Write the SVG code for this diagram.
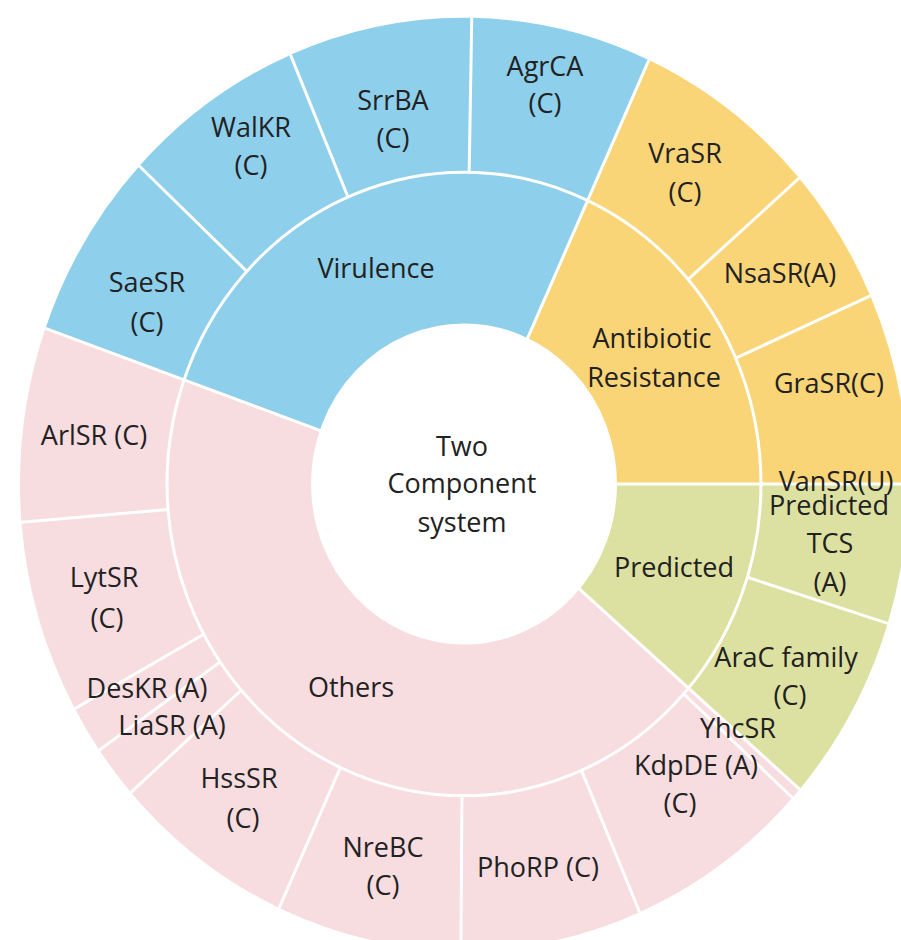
<svg xmlns="http://www.w3.org/2000/svg" width="901" height="940" viewBox="0 0 901 940">
<style>
.mid{fill:none;stroke-width:145.5}
.out{fill:none;stroke-width:147}
.v{stroke:#8ECFEC}
.a{stroke:#F9D578}
.p{stroke:#DCE0A0}
.o{stroke:#F7DCE0}
.sep{stroke:#FFFFFF;stroke-width:3;fill:none;vector-effect:non-scaling-stroke}
text{font-family:"Open Sans","DejaVu Sans",sans-serif;font-size:27px;fill:#222222;text-anchor:middle}
</style>
<rect width="901" height="940" fill="#FFFFFF"/>
<g transform="translate(464,484) scale(1,1.05)">
  <g id="virulence"><circle class="mid v" r="224.25" pathLength="360" stroke-dasharray="95.1 360" transform="rotate(199.5)"/></g>
  <g id="antibiotic"><circle class="mid a" r="224.25" pathLength="360" stroke-dasharray="65.4 360" transform="rotate(-65.4)"/></g>
  <g id="predicted"><circle class="mid p" r="224.25" pathLength="360" stroke-dasharray="40.9 360" transform="rotate(0)"/></g>
  <g id="others"><circle class="mid o" r="224.25" pathLength="360" stroke-dasharray="158.6 360" transform="rotate(40.9)"/></g>
  <g id="saesr"><circle class="out v" r="370.5" pathLength="360" stroke-dasharray="23.5 360" transform="rotate(199.5)"/></g>
  <g id="walkr"><circle class="out v" r="370.5" pathLength="360" stroke-dasharray="24 360" transform="rotate(223)"/></g>
  <g id="srrba"><circle class="out v" r="370.5" pathLength="360" stroke-dasharray="24 360" transform="rotate(247)"/></g>
  <g id="agrca"><circle class="out v" r="370.5" pathLength="360" stroke-dasharray="23.6 360" transform="rotate(-89)"/></g>
  <g id="vrasr"><circle class="out a" r="370.5" pathLength="360" stroke-dasharray="24.4 360" transform="rotate(-65.4)"/></g>
  <g id="nsasr"><circle class="out a" r="370.5" pathLength="360" stroke-dasharray="17.2 360" transform="rotate(-41)"/></g>
  <g id="grasr"><circle class="out a" r="370.5" pathLength="360" stroke-dasharray="23.8 360" transform="rotate(-23.8)"/></g>
  <g id="predtcs"><circle class="out p" r="370.5" pathLength="360" stroke-dasharray="17.4 360" transform="rotate(0)"/></g>
  <g id="arac"><circle class="out p" r="370.5" pathLength="360" stroke-dasharray="23.5 360" transform="rotate(17.4)"/></g>
  <g id="yhcsr"><circle class="out o" r="370.5" pathLength="360" stroke-dasharray="1.4 360" transform="rotate(40.9)"/></g>
  <g id="kdpde"><circle class="out o" r="370.5" pathLength="360" stroke-dasharray="24.4 360" transform="rotate(42.3)"/></g>
  <g id="phorp"><circle class="out o" r="370.5" pathLength="360" stroke-dasharray="23.7 360" transform="rotate(66.7)"/></g>
  <g id="nrebc"><circle class="out o" r="370.5" pathLength="360" stroke-dasharray="24.2 360" transform="rotate(90.4)"/></g>
  <g id="hsssr"><circle class="out o" r="370.5" pathLength="360" stroke-dasharray="24 360" transform="rotate(114.6)"/></g>
  <g id="liasr"><circle class="out o" r="370.5" pathLength="360" stroke-dasharray="6.6 360" transform="rotate(138.6)"/></g>
  <g id="deskr"><circle class="out o" r="370.5" pathLength="360" stroke-dasharray="6 360" transform="rotate(145.2)"/></g>
  <g id="lytsr"><circle class="out o" r="370.5" pathLength="360" stroke-dasharray="24.1 360" transform="rotate(151.2)"/></g>
  <g id="arlsr"><circle class="out o" r="370.5" pathLength="360" stroke-dasharray="24.2 360" transform="rotate(175.3)"/></g>
  <g id="root"><circle r="151.5" fill="#FFFFFF"/></g>
  <g id="connectors">
    <circle class="sep" r="297"/>
    <circle class="sep" r="151.5"/>
    <line class="sep" x1="0" y1="-151.5" x2="0" y2="-444" transform="rotate(289.5)"/>
    <line class="sep" x1="0" y1="-151.5" x2="0" y2="-444" transform="rotate(24.6)"/>
    <line class="sep" x1="0" y1="-151.5" x2="0" y2="-444" transform="rotate(90)"/>
    <line class="sep" x1="0" y1="-151.5" x2="0" y2="-444" transform="rotate(130.9)"/>
    <line class="sep" x1="0" y1="-297" x2="0" y2="-444" transform="rotate(313)"/>
    <line class="sep" x1="0" y1="-297" x2="0" y2="-444" transform="rotate(337)"/>
    <line class="sep" x1="0" y1="-297" x2="0" y2="-444" transform="rotate(1)"/>
    <line class="sep" x1="0" y1="-297" x2="0" y2="-444" transform="rotate(49)"/>
    <line class="sep" x1="0" y1="-297" x2="0" y2="-444" transform="rotate(66.2)"/>
    <line class="sep" x1="0" y1="-297" x2="0" y2="-444" transform="rotate(107.4)"/>
    <line class="sep" x1="0" y1="-297" x2="0" y2="-444" transform="rotate(132.3)"/>
    <line class="sep" x1="0" y1="-297" x2="0" y2="-444" transform="rotate(156.7)"/>
    <line class="sep" x1="0" y1="-297" x2="0" y2="-444" transform="rotate(180.4)"/>
    <line class="sep" x1="0" y1="-297" x2="0" y2="-444" transform="rotate(204.6)"/>
    <line class="sep" x1="0" y1="-297" x2="0" y2="-444" transform="rotate(228.6)"/>
    <line class="sep" x1="0" y1="-297" x2="0" y2="-444" transform="rotate(235.2)"/>
    <line class="sep" x1="0" y1="-297" x2="0" y2="-444" transform="rotate(241.2)"/>
    <line class="sep" x1="0" y1="-297" x2="0" y2="-444" transform="rotate(265.3)"/>
  </g>
</g>
<g id="labels">
  <text x="462" y="456">Two<tspan x="462" y="493">Component</tspan><tspan x="462" y="532">system</tspan></text>
  <text x="376" y="278">Virulence</text>
  <text x="652" y="348">Antibiotic<tspan x="654" y="387">Resistance</tspan></text>
  <text x="674" y="577">Predicted</text>
  <text x="351" y="697">Others</text>
  <text x="545" y="76">AgrCA<tspan x="545" y="113">(C)</tspan></text>
  <text x="393" y="110">SrrBA<tspan x="393" y="148">(C)</tspan></text>
  <text x="251" y="137">WalKR<tspan x="251" y="175">(C)</tspan></text>
  <text x="147" y="292">SaeSR<tspan x="147" y="332">(C)</tspan></text>
  <text x="685" y="163">VraSR<tspan x="685" y="202">(C)</tspan></text>
  <text x="780" y="283">NsaSR(A)</text>
  <text x="829" y="393">GraSR(C)</text>
  <text x="836" y="491">VanSR(U)</text>
  <text x="829" y="515">Predicted<tspan x="830" y="553">TCS</tspan><tspan x="830" y="592">(A)</tspan></text>
  <text x="786" y="667">AraC family<tspan x="790" y="705">(C)</tspan></text>
  <text x="738" y="738">YhcSR</text>
  <text x="696" y="775">KdpDE (A)<tspan x="680" y="813">(C)</tspan></text>
  <text x="538" y="877">PhoRP (C)</text>
  <text x="383" y="857">NreBC<tspan x="383" y="895">(C)</tspan></text>
  <text x="239" y="788">HssSR<tspan x="243" y="828">(C)</tspan></text>
  <text x="172" y="735">LiaSR (A)</text>
  <text x="147" y="698">DesKR (A)</text>
  <text x="104" y="587">LytSR<tspan x="107" y="628">(C)</tspan></text>
  <text x="94" y="445">ArlSR (C)</text>
</g>
</svg>
